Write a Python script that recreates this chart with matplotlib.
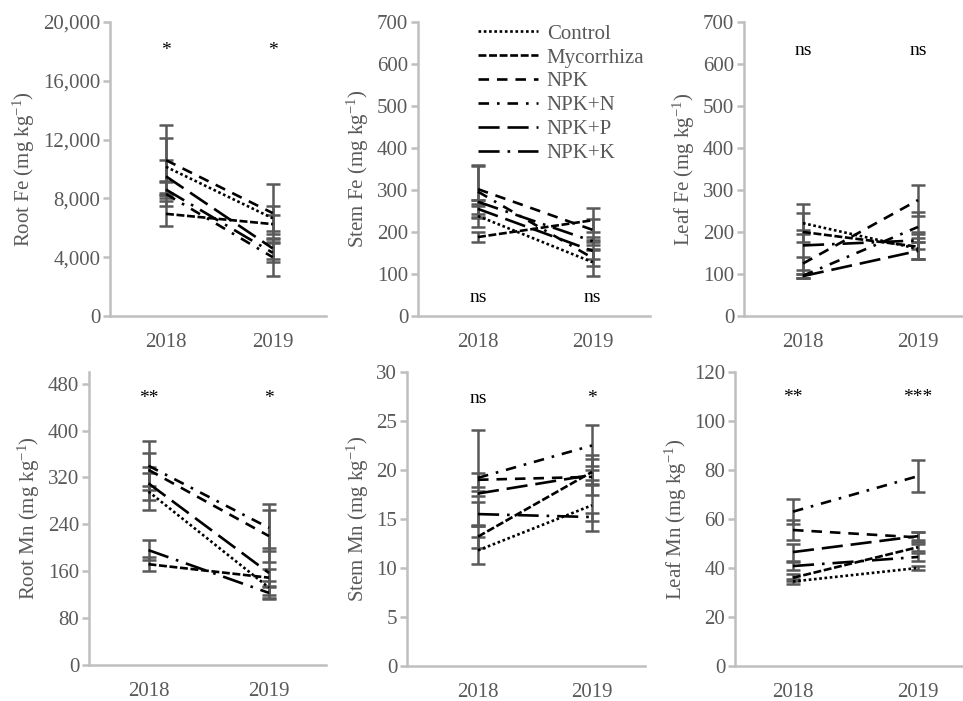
import matplotlib
matplotlib.use("Agg")
import matplotlib.pyplot as plt
import numpy as np

plt.rcParams['font.family'] = ['Liberation Serif', 'DejaVu Serif']
plt.rcParams['mathtext.fontset'] = 'custom'
plt.rcParams['mathtext.rm'] = 'Liberation Serif'
plt.rcParams['mathtext.default'] = 'regular'

years = ["2018", "2019"]
treatments = ["Control", "Mycorrhiza", "NPK", "NPK+N", "NPK+P", "NPK+K"]

# ---- data: mean values [2018, 2019] and error bars [2018, 2019] ----
root_fe = {"Control": [10150, 6650], "Mycorrhiza": [6950, 6250], "NPK": [10600, 7000],
           "NPK+N": [8300, 4000], "NPK+P": [9500, 4600], "NPK+K": [8600, 4300]}
root_fe_err = {"Control": [1950, 850], "Mycorrhiza": [850, 650], "NPK": [2400, 2000],
               "NPK+N": [800, 1250], "NPK+P": [1100, 700], "NPK+K": [550, 650]}

stem_fe = {"Control": [238, 128], "Mycorrhiza": [188, 228], "NPK": [302, 205],
           "NPK+N": [296, 138], "NPK+P": [255, 155], "NPK+K": [272, 178]}
stem_fe_err = {"Control": [25, 32], "Mycorrhiza": [12, 28], "NPK": [58, 25],
               "NPK+N": [62, 20], "NPK+P": [20, 20], "NPK+K": [5, 10]}

leaf_fe = {"Control": [221, 160], "Mycorrhiza": [200, 165], "NPK": [125, 276],
           "NPK+N": [96, 212], "NPK+P": [95, 155], "NPK+K": [168, 180]}
leaf_fe_err = {"Control": [45, 25], "Mycorrhiza": [5, 30], "NPK": [15, 37],
               "NPK+N": [5, 35], "NPK+P": [5, 20], "NPK+K": [78, 20]}

root_mn = {"Control": [296, 132], "Mycorrhiza": [172, 149], "NPK": [333, 220],
           "NPK+N": [340, 234], "NPK+P": [310, 157], "NPK+K": [196, 123]}
root_mn_err = {"Control": [32, 12], "Mycorrhiza": [12, 14], "NPK": [28, 44],
               "NPK+N": [42, 40], "NPK+P": [28, 43], "NPK+K": [17, 10]}

stem_mn = {"Control": [11.8, 16.4], "Mycorrhiza": [13.2, 19.8], "NPK": [19.0, 19.3],
           "NPK+N": [19.2, 22.5], "NPK+P": [17.6, 19.5], "NPK+K": [15.5, 15.2]}
stem_mn_err = {"Control": [1.4, 2.6], "Mycorrhiza": [1.2, 1.3], "NPK": [0.7, 0.7],
               "NPK+N": [4.9, 2.1], "NPK+P": [0.25, 2.0], "NPK+K": [1.2, 0.4]}

leaf_mn = {"Control": [34.5, 40.0], "Mycorrhiza": [36.0, 48.5], "NPK": [55.5, 52.5],
           "NPK+N": [63.0, 77.5], "NPK+P": [46.5, 53.0], "NPK+K": [40.8, 44.5]}
leaf_mn_err = {"Control": [1.0, 1.0], "Mycorrhiza": [1.5, 1.5], "NPK": [4.0, 2.0],
               "NPK+N": [5.0, 6.5], "NPK+P": [3.5, 1.5], "NPK+K": [1.5, 1.5]}

signif = {
    "Root Fe": ["*", "*"], "Stem Fe": ["ns", "ns"], "Leaf Fe": ["ns", "ns"],
    "Root Mn": ["**", "*"], "Stem Mn": ["ns", "*"], "Leaf Mn": ["**", "***"],
}

# ---- styles ----
styles = {"Control": (0, (1, 1)), "Mycorrhiza": (0, (3, 1)), "NPK": (0, (4, 3)),
          "NPK+N": (0, (4, 3, 1, 3)), "NPK+P": (0, (8, 3)), "NPK+K": (0, (8, 3, 1, 3))}

W, H = 963, 701
fig = plt.figure(figsize=(W / 100, H / 100), dpi=100)

AX_GRAY = "#BFBFBF"
TXT_GRAY = "#595959"

# panel layout in pixels: (spine_x, x2018, x2019, right_x, top_y, bottom_y)
panels = [
    ("Root Fe", root_fe, root_fe_err, 20000, 4000, (110, 166, 272.7, 326, 22, 316), 17755, True),
    ("Stem Fe", stem_fe, stem_fe_err, 700, 100, (418, 478, 592.7, 650, 22, 316), 33, False),
    ("Leaf Fe", leaf_fe, leaf_fe_err, 700, 100, (744, 803, 918, 975, 22, 316), 621, False),
    ("Root Mn", root_mn, root_mn_err, 500, 80, (89, 148.5, 269, 326, 372, 665), 447, False),
    ("Stem Mn", stem_mn, stem_mn_err, 30, 5, (407, 478, 592, 645, 372, 666), 26.8, False),
    ("Leaf Mn", leaf_mn, leaf_mn_err, 120, 20, (735, 793, 918, 975, 372, 666), 107.6, False),
]

x = np.arange(len(years))
for name, vals, errs, ymax, step, (sx, c0, c1, rx, ty, by), sig_y, comma in panels:
    ax = fig.add_axes([sx / W, 1 - by / H, (rx - sx) / W, (by - ty) / H])
    scale = c1 - c0
    ax.set_xlim(-(c0 - sx) / scale, 1 + (rx - c1) / scale)
    ax.set_ylim(0, ymax)
    for t in treatments:
        ax.errorbar(x, vals[t], yerr=errs[t], fmt='none', ecolor=TXT_GRAY,
                    elinewidth=1.8, capsize=4.8, capthick=1.8, zorder=2)
    for t in treatments:
        ax.plot(x, vals[t], color='black', lw=1.9, linestyle=styles[t], label=t, zorder=3)
    ticks = np.arange(0, ymax + 1e-9, step)
    if ymax == 500:
        ticks = np.arange(0, 481, 80)
    ax.set_yticks(ticks)
    if comma:
        ax.set_yticklabels([f"{int(v):,}" for v in ticks])
    ax.set_xticks(x)
    ax.set_xticklabels(years)
    for sp in ["top", "right"]:
        ax.spines[sp].set_visible(False)
    for sp in ["left", "bottom"]:
        ax.spines[sp].set_color(AX_GRAY)
        ax.spines[sp].set_linewidth(1.8)
    ax.tick_params(axis='y', colors=AX_GRAY, length=5, width=1.8, labelsize=15,
                   labelcolor=TXT_GRAY, pad=2)
    ax.tick_params(axis='x', length=0, labelsize=15, labelcolor=TXT_GRAY, pad=12)
    ax.set_ylabel(f"{name} (mg kg$^{{-1}}$)", fontsize=15, color=TXT_GRAY, labelpad=4)
    for i, s in enumerate(signif[name]):
        ax.text(x[i], sig_y, s, ha='center', va='baseline', fontsize=14, color='black')
    ax.patch.set_alpha(0)
    if name == "Stem Fe":
        leg = ax.legend(loc='upper left', bbox_to_anchor=(478 / W, 1 - 24 / H),
                        bbox_transform=fig.transFigure, frameon=False, fontsize=15,
                        handlelength=2.9, handletextpad=0.4, labelspacing=0.21,
                        borderpad=0, borderaxespad=0)
        for txt in leg.get_texts():
            txt.set_color(TXT_GRAY)

fig.savefig("out.png", dpi=100)
